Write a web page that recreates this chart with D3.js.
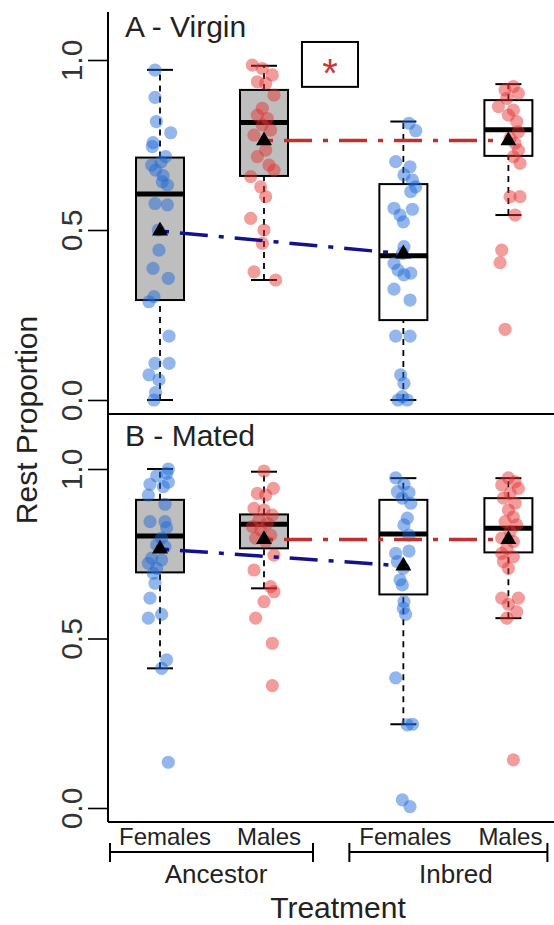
<!DOCTYPE html>
<html>
<head>
<meta charset="utf-8">
<script src="https://cdn.jsdelivr.net/npm/d3@7"></script>
<style>
  body { margin: 0; background: #fff; }
  svg { display: block; font-family: "Liberation Sans", Arial, sans-serif; }
</style>
</head>
<body>
<svg id="chart" width="554" height="925"></svg>
<script>
// categories
const sexes = ["Females", "Males", "Females", "Males"];
const treatments = ["Ancestor", "Inbred"];
const panelTitles = ["A - Virgin", "B - Mated"];
const yTicks = [0, 0.5, 1];
const groupPos = [1, 2, 3.34, 4.35];

// box stats per group: [lower whisker, q1, median, q3, upper whisker]
const virginBoxes = [
  [0.0, 0.294, 0.606, 0.713, 0.971],
  [0.353, 0.659, 0.816, 0.912, 0.983],
  [0.0, 0.235, 0.424, 0.635, 0.819],
  [0.544, 0.718, 0.795, 0.882, 0.929]
];
const matedBoxes = [
  [0.412, 0.695, 0.802, 0.909, 1.0],
  [0.648, 0.766, 0.837, 0.866, 0.992],
  [0.247, 0.630, 0.808, 0.909, 0.973],
  [0.560, 0.754, 0.825, 0.914, 0.973]
];
const virginMeans = [0.497, 0.763, 0.430, 0.763];
const matedMeans = [0.764, 0.792, 0.714, 0.792];

// individual rest proportions (virgin)
const virginAncF = [0.97, 0.89, 0.819, 0.786, 0.757, 0.745, 0.716, 0.70, 0.691, 0.676, 0.66, 0.642, 0.632, 0.578, 0.574, 0.5, 0.441, 0.387, 0.358, 0.304, 0.289, 0.188, 0.108, 0.108, 0.074, 0.059, 0.022, 0.0];
const virginAncFJit = [-0.048, -0.048, -0.035, 0.103, -0.067, -0.074, 0.054, 0.01, -0.08, -0.042, 0.03, 0.022, 0.071, -0.048, 0.071, -0.016, -0.01, -0.067, 0.08, -0.058, -0.106, 0.087, -0.048, 0.087, -0.106, -0.01, -0.042, -0.058];
const virginAncM = [0.985, 0.975, 0.956, 0.936, 0.931, 0.897, 0.858, 0.838, 0.828, 0.809, 0.794, 0.779, 0.735, 0.716, 0.691, 0.676, 0.657, 0.627, 0.598, 0.534, 0.5, 0.461, 0.377, 0.353];
const virginAncMJit = [-0.112, -0.016, 0.08, -0.064, 0.016, 0.096, -0.016, -0.064, 0.032, -0.016, 0.064, -0.096, 0.016, -0.064, 0.048, 0.096, -0.128, -0.032, 0.016, -0.128, 0.0, -0.016, -0.096, 0.112];
const virginInbF = [0.814, 0.792, 0.701, 0.686, 0.662, 0.647, 0.627, 0.613, 0.564, 0.561, 0.544, 0.524, 0.451, 0.431, 0.402, 0.382, 0.373, 0.368, 0.326, 0.294, 0.188, 0.188, 0.074, 0.049, 0.01, 0.0, 0.0];
const virginInbFJit = [0.054, 0.119, -0.074, 0.064, 0.006, 0.087, 0.119, 0.071, -0.09, 0.087, -0.032, 0.0, 0.006, -0.01, -0.09, -0.051, 0.071, 0.006, -0.09, 0.064, -0.074, 0.064, -0.026, 0.006, -0.01, -0.051, 0.038];
const virginInbM = [0.922, 0.912, 0.902, 0.887, 0.863, 0.853, 0.838, 0.819, 0.789, 0.77, 0.755, 0.735, 0.716, 0.696, 0.598, 0.598, 0.544, 0.441, 0.404, 0.208];
const virginInbMJit = [0.048, -0.032, 0.096, -0.016, -0.096, 0.048, 0.0, 0.08, 0.096, 0.016, 0.064, 0.096, 0.048, 0.112, 0.016, 0.112, 0.064, -0.064, -0.08, -0.032];

// individual rest proportions (mated)
const matedAncF = [1.0, 0.987, 0.98, 0.961, 0.955, 0.948, 0.923, 0.896, 0.845, 0.845, 0.827, 0.796, 0.776, 0.771, 0.737, 0.732, 0.722, 0.707, 0.692, 0.663, 0.619, 0.571, 0.56, 0.437, 0.412, 0.135];
const matedAncFJit = [0.08, 0.064, -0.032, 0.08, -0.096, 0.032, -0.112, 0.048, -0.096, 0.048, 0.064, 0.016, -0.032, 0.048, -0.08, 0.016, -0.112, -0.032, -0.064, -0.048, -0.096, 0.016, -0.112, 0.064, 0.016, 0.08];
const matedAncM = [0.994, 0.943, 0.928, 0.923, 0.884, 0.879, 0.864, 0.85, 0.84, 0.83, 0.82, 0.805, 0.796, 0.786, 0.746, 0.702, 0.653, 0.638, 0.609, 0.56, 0.486, 0.361];
const matedAncMJit = [0.0, 0.09, -0.064, 0.016, -0.096, 0.0, 0.08, -0.048, 0.032, -0.112, -0.032, 0.064, -0.08, 0.016, 0.096, -0.096, 0.064, 0.096, 0.0, -0.08, 0.08, 0.08];
const matedInbF = [0.974, 0.955, 0.933, 0.931, 0.914, 0.899, 0.855, 0.835, 0.805, 0.758, 0.751, 0.727, 0.707, 0.673, 0.658, 0.609, 0.589, 0.571, 0.384, 0.247, 0.245, 0.024, 0.004];
const matedInbFJit = [-0.074, 0.006, -0.058, 0.054, -0.01, 0.071, 0.038, 0.006, 0.054, 0.054, -0.074, -0.058, 0.0, -0.032, -0.01, 0.006, 0.0, 0.022, -0.074, 0.087, 0.038, -0.01, 0.064];
const matedInbM = [0.974, 0.962, 0.953, 0.943, 0.928, 0.914, 0.899, 0.879, 0.859, 0.845, 0.835, 0.815, 0.796, 0.786, 0.766, 0.751, 0.741, 0.727, 0.707, 0.619, 0.619, 0.601, 0.579, 0.56, 0.142];
const matedInbMJit = [0.0, 0.064, -0.064, 0.096, 0.016, -0.048, 0.064, 0.0, 0.048, -0.032, 0.08, 0.016, -0.064, 0.048, -0.016, -0.064, 0.048, -0.048, 0.0, -0.064, 0.096, 0.0, 0.08, -0.016, 0.048];

const svg = d3.select("#chart");
const x = d3.scaleLinear().domain([1, 2]).range([160, 264]);
const xLeft = 108, xRight = 554;

const ptColor = ["rgba(30,105,215,0.48)", "rgba(228,48,48,0.48)"];
const boxFill = ["#bebebe", "#ffffff"];
const lineColor = ["#12128c", "#c0302f"];

const panels = [
  { title: panelTitles[0], boxes: virginBoxes, means: virginMeans,
    pts: [virginAncF, virginAncM, virginInbF, virginInbM],
    jit: [virginAncFJit, virginAncMJit, virginInbFJit, virginInbMJit],
    y: d3.scaleLinear().domain([0, 1]).range([400, 60]), top: 12, bottom: 414 },
  { title: panelTitles[1], boxes: matedBoxes, means: matedMeans,
    pts: [matedAncF, matedAncM, matedInbF, matedInbM],
    jit: [matedAncFJit, matedAncMJit, matedInbFJit, matedInbMJit],
    y: d3.scaleLinear().domain([0, 1]).range([808, 469]), top: 414, bottom: 822 }
];

panels.forEach((p, pi) => {
  const g = svg.append("g");
  const y = p.y;

  // axes: left line and bottom line
  g.append("line").attr("x1", xLeft).attr("x2", xLeft).attr("y1", p.top).attr("y2", p.bottom)
    .attr("stroke", "#000").attr("stroke-width", 2);
  g.append("line").attr("x1", xLeft).attr("x2", xRight).attr("y1", p.bottom).attr("y2", p.bottom)
    .attr("stroke", "#000").attr("stroke-width", 2);

  const ya = g.append("g").attr("transform", `translate(${xLeft},0)`)
    .call(d3.axisLeft(y).tickValues(yTicks).tickSize(20).tickFormat(d3.format(".1f")));
  ya.select(".domain").remove();
  ya.selectAll(".tick line").attr("stroke", "#000").attr("stroke-width", 1.6);
  ya.selectAll(".tick text")
    .attr("x", null).attr("dy", null)
    .attr("transform", "translate(-26,0) rotate(-90)")
    .attr("text-anchor", "middle")
    .attr("font-size", 30)
    .attr("font-family", "Liberation Sans, Arial, sans-serif")
    .attr("fill", "#333");

  // panel title
  g.append("text").attr("x", 125).attr("y", y(1.067))
    .attr("font-size", 30).attr("fill", "#222").text(p.title);

  // boxes
  p.boxes.forEach((b, i) => {
    const cx = x(groupPos[i]);
    const bw = 24, cw = 13;
    const bg = g.append("g");
    bg.append("line").attr("x1", cx).attr("x2", cx).attr("y1", y(b[0])).attr("y2", y(b[1]))
      .attr("stroke", "#000").attr("stroke-width", 1.8).attr("stroke-dasharray", "6,5");
    bg.append("line").attr("x1", cx).attr("x2", cx).attr("y1", y(b[3])).attr("y2", y(b[4]))
      .attr("stroke", "#000").attr("stroke-width", 1.8).attr("stroke-dasharray", "6,5");
    [b[0], b[4]].forEach(v => {
      bg.append("line").attr("x1", cx - cw).attr("x2", cx + cw).attr("y1", y(v)).attr("y2", y(v))
        .attr("stroke", "#000").attr("stroke-width", 2);
    });
    bg.append("rect").attr("x", cx - bw).attr("width", 2 * bw)
      .attr("y", y(b[3])).attr("height", y(b[1]) - y(b[3]))
      .attr("fill", boxFill[i < 2 ? 0 : 1]).attr("stroke", "#000").attr("stroke-width", 2);
    bg.append("line").attr("x1", cx - bw).attr("x2", cx + bw).attr("y1", y(b[2])).attr("y2", y(b[2]))
      .attr("stroke", "#000").attr("stroke-width", 5);
  });

  // jittered points
  p.pts.forEach((vals, i) => {
    g.append("g").selectAll("circle").data(vals).join("circle")
      .attr("cx", (d, k) => x(groupPos[i] + p.jit[i][k]))
      .attr("cy", d => y(d))
      .attr("r", 6.6)
      .attr("fill", ptColor[i % 2]);
  });

  // dash-dot lines joining means
  [0, 1].forEach(s => {
    g.append("line")
      .attr("x1", x(groupPos[s])).attr("y1", y(p.means[s]))
      .attr("x2", x(groupPos[s + 2])).attr("y2", y(p.means[s + 2]))
      .attr("stroke", lineColor[s]).attr("stroke-width", 3.5)
      .attr("stroke-dasharray", "28,11,5,11").attr("stroke-dashoffset", -20);
  });

  // mean triangles
  g.append("g").selectAll("path").data(p.means).join("path")
    .attr("d", d3.symbol(d3.symbolTriangle).size(110))
    .attr("transform", (d, i) => `translate(${x(groupPos[i])},${y(d)})`)
    .attr("fill", "#000");

  // significance marker in panel A
  if (pi === 0) {
    g.append("rect").attr("x", x(2.365)).attr("y", y(1.053))
      .attr("width", x(2.904) - x(2.365)).attr("height", y(0.921) - y(1.053))
      .attr("fill", "none").attr("stroke", "#000").attr("stroke-width", 2);
    g.append("text").attr("x", x(2.635)).attr("y", y(0.985) + 22)
      .attr("text-anchor", "middle").attr("font-size", 40).attr("fill", "#c8363a").text("*");
  }
});

// y axis title
svg.append("text")
  .attr("transform", "translate(37,420) rotate(-90)")
  .attr("text-anchor", "middle").attr("font-size", 30).attr("fill", "#222")
  .text("Rest Proportion");

// x category labels
const xa = svg.append("g");
xa.selectAll("text.sex").data(sexes).join("text").attr("class", "sex")
  .attr("x", (d, i) => x(groupPos[i]) + (i < 2 ? 5 : 2)).attr("y", 845)
  .attr("text-anchor", "middle").attr("font-size", 24).attr("fill", "#222")
  .text(d => d);

// brackets grouping treatments
const brackets = [[0, 1], [2, 3]];
brackets.forEach((br, t) => {
  const x1 = x(groupPos[br[0]]) - (t === 0 ? 50 : 54);
  const x2 = x(groupPos[br[1]]) + (t === 0 ? 49 : 39);
  xa.append("line").attr("x1", x1).attr("x2", x2).attr("y1", 852).attr("y2", 852)
    .attr("stroke", "#000").attr("stroke-width", 2);
  [x1, x2].forEach(xx => {
    xa.append("line").attr("x1", xx).attr("x2", xx).attr("y1", 843).attr("y2", 862)
      .attr("stroke", "#000").attr("stroke-width", 2);
  });
  xa.append("text")
    .attr("x", (x(groupPos[br[0]]) + x(groupPos[br[1]])) / 2 + (t === 0 ? 4 : 0))
    .attr("y", 883).attr("text-anchor", "middle").attr("font-size", 26).attr("fill", "#222")
    .text(treatments[t]);
});

svg.append("text").attr("x", 338).attr("y", 918)
  .attr("text-anchor", "middle").attr("font-size", 30).attr("fill", "#222")
  .text("Treatment");
</script>
</body>
</html>
